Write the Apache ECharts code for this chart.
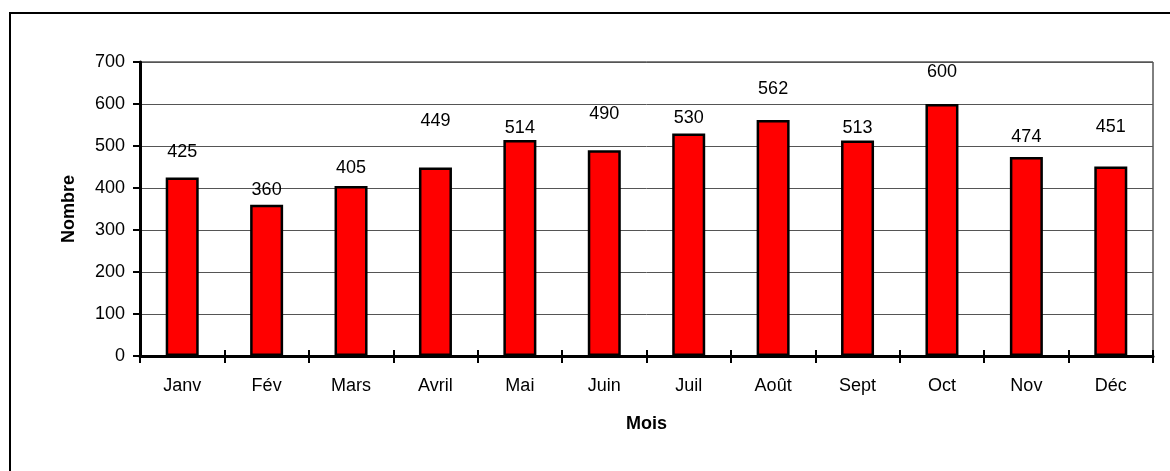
<!DOCTYPE html>
<html>
<head>
<meta charset="utf-8">
<script src="https://cdn.jsdelivr.net/npm/echarts@6/dist/echarts.min.js"></script>
<style>
  html, body { margin: 0; padding: 0; background: #fff; }
  #chart { width: 1170px; height: 471px; }
  .frame {
    position: absolute;
    left: 9px;
    top: 12px;
    width: 1200px;
    height: 500px;
    border: 2px solid #000;
    pointer-events: none;
  }
</style>
</head>
<body>
<div id="chart"></div>
<div class="frame"></div>
<script>
const months = ['Janv', 'Fév', 'Mars', 'Avril', 'Mai', 'Juin', 'Juil', 'Août', 'Sept', 'Oct', 'Nov', 'Déc']
const counts = [425, 360, 405, 449, 514, 490, 530, 562, 513, 600, 474, 451]
// label gaps above each bar (the original labels were placed by hand)
const labelGaps = [16, 6, 9, 37, 3, 27, 6, 22, 4, 23, 11, 31]

const font = 'Liberation Sans, Arial, sans-serif'
const fontSize = 18

const chart = echarts.init(document.getElementById('chart'))

const option = {
  backgroundColor: '#fff',
  animation: false,
  grid: {
    left: 140,
    right: 17,
    top: 62,
    bottom: 115,
    show: true,
    borderColor: '#000',
    borderWidth: 1
  },
  xAxis: [
    {
      type: 'category',
      data: months,
      name: 'Mois',
      nameLocation: 'middle',
      nameGap: 59,
      nameTextStyle: { color: '#000', fontFamily: font, fontSize: fontSize, fontWeight: 'bold' },
      axisLine: { lineStyle: { color: '#000', width: 3 } },
      axisTick: { show: true, length: 7, lineStyle: { color: '#000', width: 2 } },
      axisLabel: { color: '#000', fontFamily: font, fontSize: fontSize, margin: 21 }
    },
    {
      // upper half of the crossing ticks
      type: 'category',
      data: months,
      position: 'bottom',
      axisLine: { show: false },
      axisTick: { show: true, inside: true, length: 6, lineStyle: { color: '#000', width: 2 } },
      axisLabel: { show: false },
      splitLine: { show: false }
    }
  ],
  yAxis: {
    type: 'value',
    min: 0,
    max: 700,
    interval: 100,
    name: 'Nombre',
    nameLocation: 'middle',
    nameGap: 62,
    nameTextStyle: { color: '#000', fontFamily: font, fontSize: fontSize, fontWeight: 'bold' },
    axisLine: { show: true, lineStyle: { color: '#000', width: 3 } },
    axisTick: { show: true, length: 7, lineStyle: { color: '#000', width: 2 } },
    axisLabel: { color: '#000', fontFamily: font, fontSize: fontSize, margin: 15 },
    splitLine: { lineStyle: { color: '#555', width: 1 } }
  },
  series: [
    {
      type: 'bar',
      barWidth: 33,
      data: counts.map((v, i) => ({
        value: v,
        label: { distance: labelGaps[i] }
      })),
      itemStyle: { color: '#ff0000', borderColor: '#000', borderWidth: 2.5 },
      label: {
        show: true,
        position: 'top',
        color: '#000',
        fontFamily: font,
        fontSize: fontSize
      }
    }
  ]
}

chart.setOption(option)
</script>
</body>
</html>
